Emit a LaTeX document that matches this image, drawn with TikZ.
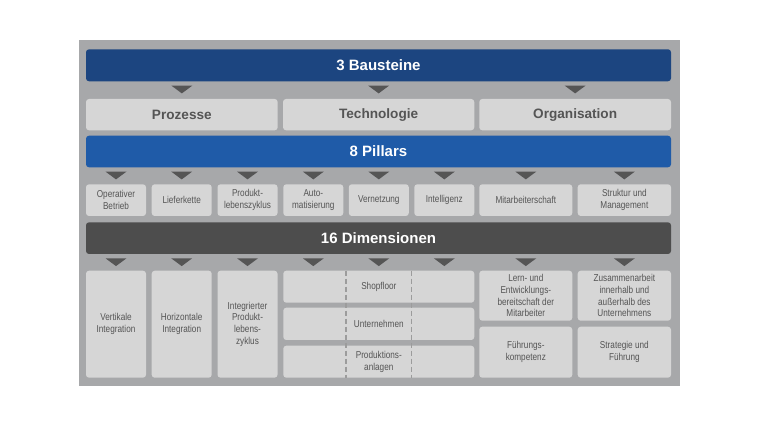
\documentclass[tikz,border=0pt]{standalone}
\usepackage{fontspec}
\setmainfont{Liberation Sans}
\newfontfamily\narrowfont[FakeStretch=0.82]{Liberation Sans}
\usetikzlibrary{calc}
\definecolor{bgcol}{HTML}{A7A8AA}
\definecolor{bluedark}{HTML}{1C4580}
\definecolor{bluemid}{HTML}{1F5BA8}
\definecolor{darkgray}{HTML}{4D4D4D}
\definecolor{lightbox}{HTML}{D6D6D6}
\definecolor{tricol}{HTML}{555555}
\definecolor{txtcol}{HTML}{555555}
\definecolor{dashcol}{HTML}{9C9C9C}
\newcommand\tri[2]{\fill[tricol] ($(#1.south -| #2.north)+(-10.5,4.3)$) -- ++(21,0) -- ++(-10.5,7.8) -- cycle;}
\begin{document}
\begin{tikzpicture}[x=1pt,y=-1pt,
  base/.style={anchor=north west,inner sep=0pt,outer sep=0pt,rounded corners=3pt,align=center},
  bar/.style={base,text=white,font=\bfseries\fontsize{15}{18}\selectfont},
  mainbox/.style={base,fill=lightbox,text=txtcol,font=\bfseries\fontsize{13.6}{16}\selectfont},
  smallbox/.style={base,fill=lightbox,text=txtcol,font=\narrowfont\fontsize{10}{11.8}\selectfont},
  dashline/.style={dashcol,line width=1.3pt,dash pattern=on 5pt off 3pt}
]
\useasboundingbox (0,0) rectangle (760,427);
\node[anchor=north west,inner sep=0pt,outer sep=0pt,fill=bgcol,minimum width=601pt,minimum height=346pt] (bg) at (79,40) {};
% bars
\node[bar,fill=bluedark,minimum width=585pt,minimum height=32pt] (bs) at (86,49.3) {3 Bausteine};
\node[mainbox,minimum width=191.7pt,minimum height=31.3pt] (proz) at (86,99) {Prozesse};
\node[mainbox,minimum width=191.3pt,minimum height=31.3pt] (tech) at (283,99) {Technologie};
\node[mainbox,minimum width=191.7pt,minimum height=31.3pt] (org) at (479.3,99) {Organisation};
\node[bar,fill=bluemid,minimum width=585pt,minimum height=31.6pt] (pil) at (86,135.7) {8 Pillars};
% pillars
\node[smallbox,minimum width=60pt,minimum height=31.7pt] (p1) at (86,184.3) {Operativer\\Betrieb};
\node[smallbox,minimum width=60pt,minimum height=31.7pt] (p2) at (151.7,184.3) {Lieferkette};
\node[smallbox,minimum width=60pt,minimum height=31.7pt] (p3) at (217.5,184.3) {Produkt-\\lebenszyklus};
\node[smallbox,minimum width=60pt,minimum height=31.7pt] (p4) at (283.3,184.3) {Auto-\\matisierung};
\node[smallbox,minimum width=60pt,minimum height=31.7pt] (p5) at (348.8,184.3) {Vernetzung};
\node[smallbox,minimum width=60pt,minimum height=31.7pt] (p6) at (414.3,184.3) {Intelligenz};
\node[smallbox,minimum width=93pt,minimum height=31.7pt] (p7) at (479.3,184.3) {Mitarbeiterschaft};
\node[smallbox,minimum width=93.3pt,minimum height=31.7pt] (p8) at (577.7,184.3) {Struktur und\\Management};
\node[bar,fill=darkgray,minimum width=585pt,minimum height=31.7pt] (dim) at (86,222.3) {16 Dimensionen};
% dimensions
\node[smallbox,minimum width=60pt,minimum height=107pt] (d1) at (86,270.7) {Vertikale\\Integration};
\node[smallbox,minimum width=60pt,minimum height=107pt] (d2) at (151.7,270.7) {Horizontale\\Integration};
\node[smallbox,minimum width=60pt,minimum height=107pt] (d3) at (217.5,270.7) {Integrierter\\Produkt-\\lebens-\\zyklus};
\node[smallbox,minimum width=191pt,minimum height=32pt] (m1) at (283.3,270.7) {Shopfloor};
\node[smallbox,minimum width=191pt,minimum height=32.3pt] (m2) at (283.3,307.7) {Unternehmen};
\node[smallbox,minimum width=191pt,minimum height=32pt] (m3) at (283.3,345.7) {Produktions-\\anlagen};
\node[smallbox,minimum width=93pt,minimum height=50pt] (r1) at (479.3,270.7) {Lern- und\\Entwicklungs-\\bereitschaft der\\Mitarbeiter};
\node[smallbox,minimum width=93pt,minimum height=51pt] (r2) at (479.3,326.7) {Führungs-\\kompetenz};
\node[smallbox,minimum width=93.3pt,minimum height=50pt] (s1) at (577.7,270.7) {Zusammenarbeit\\innerhalb und\\außerhalb des\\Unternehmens};
\node[smallbox,minimum width=93.3pt,minimum height=51pt] (s2) at (577.7,326.7) {Strategie und\\Führung};
% dashed dividers
\coordinate (dv1) at ($(p4.north east)!0.5!(p5.north west)$);
\coordinate (dv2) at ($(p5.north east)!0.5!(p6.north west)$);
\draw[dashline] (m1.north -| dv1) -- (m3.south -| dv1);
\draw[dashline] (m1.north -| dv2) -- (m3.south -| dv2);
% triangles
\tri{bs}{proz}\tri{bs}{tech}\tri{bs}{org}
\foreach \p in {p1,p2,p3,p4,p5,p6,p7,p8}{\tri{pil}{\p}\tri{dim}{\p}}
\end{tikzpicture}
\end{document}
